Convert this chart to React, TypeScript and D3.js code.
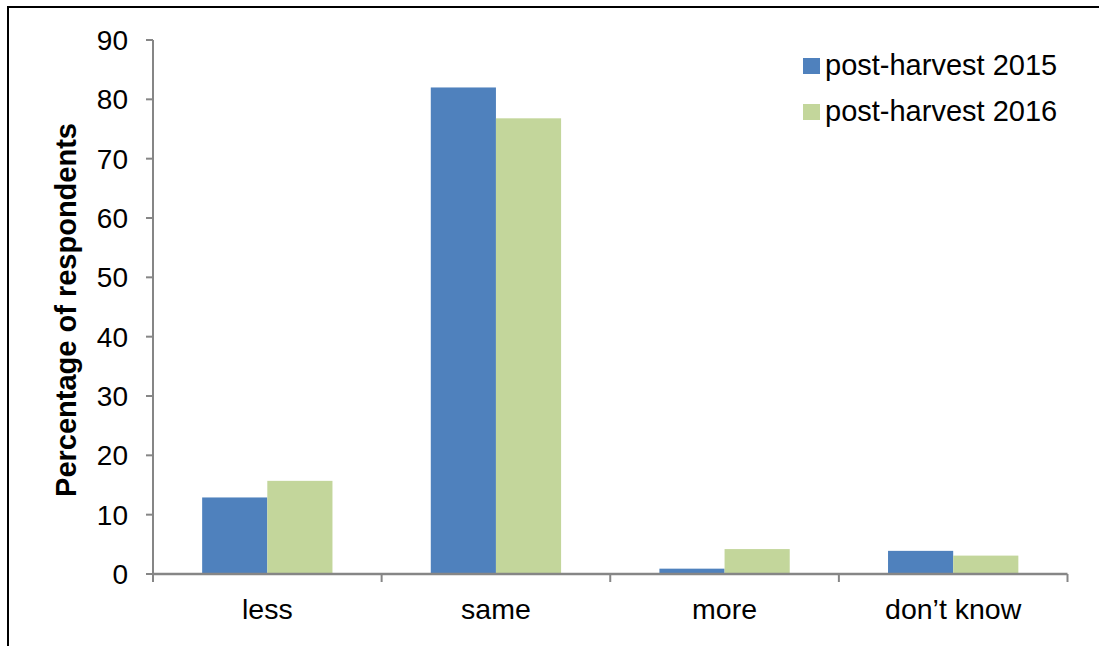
import React from "react";
import * as d3 from "d3";

const categories = ["less", "same", "more", "don\u2019t know"];
const seriesNames = ["post-harvest 2015", "post-harvest 2016"];
const values2015 = [12.9, 82, 0.9, 3.9];
const values2016 = [15.7, 76.8, 4.2, 3.1];
const yTicks = [0, 10, 20, 30, 40, 50, 60, 70, 80, 90];

const colors = ["#4F81BD", "#C3D69B"];
const axisColor = "#868686";
const font = "'Liberation Sans', Arial, sans-serif";

export default function App() {
  const width = 1099;
  const height = 646;
  const left = 153;
  const right = 1067.5;
  const top = 40;
  const bottom = 574;

  const y = d3.scaleLinear().domain([0, 90]).range([bottom, top]);
  const x0 = d3
    .scaleBand<string>()
    .domain(categories)
    .range([left, right])
    .paddingInner(0.43)
    .paddingOuter(0.215);
  const x1 = d3
    .scaleBand<number>()
    .domain([0, 1])
    .range([0, x0.bandwidth()]);
  const step = x0.step();
  const boundaries = d3.range(categories.length + 1).map((i) => left + i * step);
  const series = [values2015, values2016];

  return (
    <svg
      width={width}
      height={height}
      style={{ position: "absolute", left: 0, top: 0, background: "#fff" }}
      fontFamily={font}
    >
      <rect x={8} y={7} width={1200} height={800} fill="#fff" stroke="#000" strokeWidth={2} />

      {/* bars */}
      {categories.map((c, i) => (
        <g key={c} transform={`translate(${x0(c)},0)`}>
          {series.map((vals, s) => (
            <rect
              key={s}
              x={x1(s)}
              y={y(vals[i])}
              width={x1.bandwidth()}
              height={bottom - y(vals[i])}
              fill={colors[s]}
            />
          ))}
        </g>
      ))}

      {/* y axis */}
      <line x1={left} x2={left} y1={top} y2={bottom} stroke={axisColor} strokeWidth={2} />
      {yTicks.map((t) => (
        <g key={t}>
          <line x1={left - 7} x2={left} y1={y(t)} y2={y(t)} stroke={axisColor} strokeWidth={2} />
          <text x={128} y={y(t)} dy="0.36em" textAnchor="end" fontSize={28} fill="#000">
            {t}
          </text>
        </g>
      ))}

      {/* x axis */}
      <line x1={left} x2={right} y1={bottom} y2={bottom} stroke={axisColor} strokeWidth={2.5} />
      {boundaries.map((b, i) => (
        <line key={i} x1={b} x2={b} y1={bottom} y2={bottom + 8} stroke={axisColor} strokeWidth={2} />
      ))}
      {categories.map((c) => (
        <text
          key={c}
          x={(x0(c) as number) + x0.bandwidth() / 2}
          y={619}
          textAnchor="middle"
          fontSize={28.5}
          fill="#000"
        >
          {c}
        </text>
      ))}

      {/* y axis title */}
      <text
        transform={`translate(76,310) rotate(-90)`}
        textAnchor="middle"
        fontSize={29}
        fontWeight="bold"
        fill="#000"
      >
        Percentage of respondents
      </text>

      {/* legend */}
      {seriesNames.map((n, i) => (
        <g key={n} transform={`translate(803,${58 + i * 46})`}>
          <rect x={0} y={0} width={17} height={16} fill={colors[i]} />
          <text x={22} y={16.5} fontSize={29} fill="#000">
            {n}
          </text>
        </g>
      ))}
    </svg>
  );
}
